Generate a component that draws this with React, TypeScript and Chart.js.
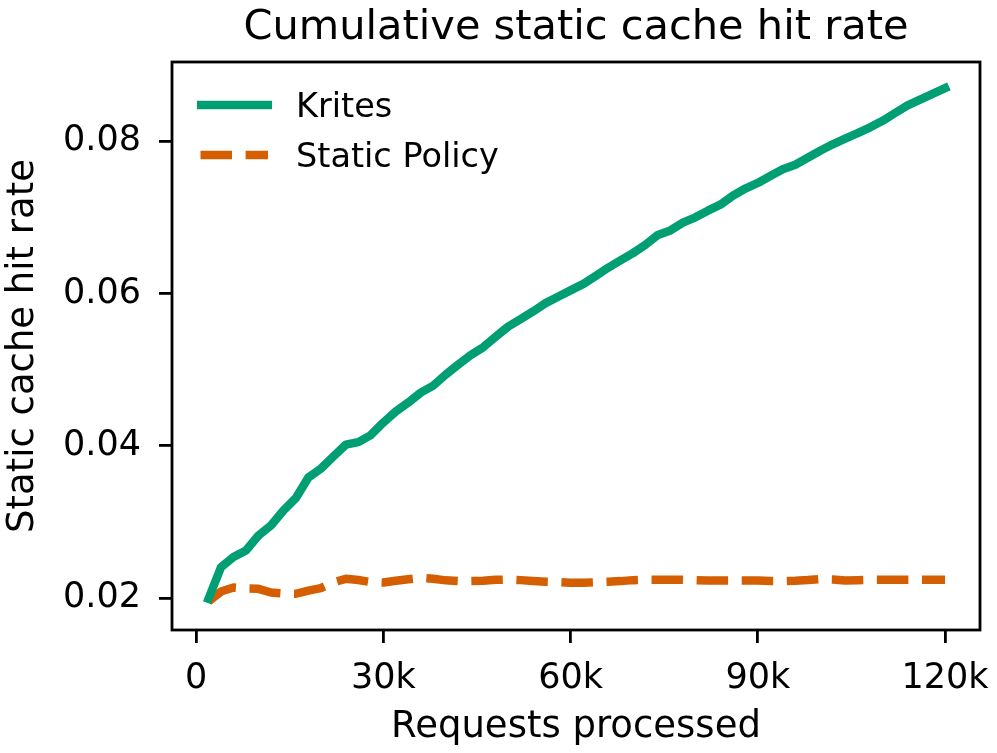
import { useEffect, useRef } from 'react';
import { Chart, registerables } from 'chart.js';

Chart.register(...registerables);

// Requests processed (thousands)
const requestsK = [
  2, 4, 6, 8, 10, 12, 14, 16, 18, 20, 22, 24, 26, 28, 30, 32, 34, 36, 38, 40,
  42, 44, 46, 48, 50, 52, 54, 56, 58, 60, 62, 64, 66, 68, 70, 72, 74, 76, 78, 80,
  82, 84, 86, 88, 90, 92, 94, 96, 98, 100, 102, 104, 106, 108, 110, 112, 114, 116, 118, 120,
];

const kritesRate = [
  0.0199, 0.02404, 0.02538, 0.02624, 0.02821, 0.02953, 0.03149, 0.03313, 0.03582, 0.037,
  0.03858, 0.04015, 0.04048, 0.0414, 0.04304, 0.04449, 0.04567, 0.04698, 0.0479, 0.04934,
  0.05066, 0.0519, 0.05293, 0.05431, 0.05565, 0.05662, 0.05764, 0.05873, 0.05958, 0.0604,
  0.06123, 0.06228, 0.06337, 0.06434, 0.0653, 0.0664, 0.06769, 0.06828, 0.06931, 0.07,
  0.07087, 0.07166, 0.07284, 0.07378, 0.07452, 0.07543, 0.07631, 0.07691, 0.07783, 0.07875,
  0.07959, 0.08033, 0.08105, 0.08182, 0.08268, 0.0837, 0.0847, 0.08546, 0.08621, 0.08696,
];

const staticRate = [
  0.01955, 0.02085, 0.02138, 0.02125, 0.02121, 0.02072, 0.02059, 0.02056, 0.02098, 0.02131,
  0.02207, 0.02252, 0.02236, 0.0221, 0.02203, 0.02226, 0.02246, 0.02265, 0.02252, 0.02232,
  0.02223, 0.02223, 0.02227, 0.02239, 0.02243, 0.02235, 0.02223, 0.02214, 0.02209, 0.022,
  0.022, 0.02207, 0.02213, 0.02222, 0.02235, 0.02239, 0.02239, 0.02239, 0.02239, 0.02235,
  0.0223, 0.0223, 0.0223, 0.0223, 0.0223, 0.02222, 0.02223, 0.02227, 0.02236, 0.02249,
  0.02243, 0.0223, 0.02235, 0.02239, 0.02239, 0.02239, 0.02239, 0.02239, 0.02239, 0.02239,
];

const xTickValues = [0, 30000, 60000, 90000, 120000];
const xTickLabels = ['0', '30k', '60k', '90k', '120k'];
const yTickValues = [0.02, 0.04, 0.06, 0.08];

const seriesNames = ['Krites', 'Static Policy'];
const seriesColors = ['#009E73', '#D55E00'];

const titleText = 'Cumulative static cache hit rate';
const xTitle = 'Requests processed';
const yTitle = 'Static cache hit rate';

const FONT = "'DejaVu Sans', 'Liberation Sans', sans-serif";
const LW = 8.5;
const DASH = [31.5, 13.6];

const decorPlugin = {
  id: 'mplDecor',
  afterDraw(chart: any) {
    const { ctx, chartArea } = chart;
    const { left, right, top, bottom } = chartArea;
    const cx = (left + right) / 2;
    ctx.save();
    // frame
    ctx.strokeStyle = '#000';
    ctx.lineWidth = 2.8;
    ctx.strokeRect(left, top, right - left, bottom - top);
    ctx.fillStyle = '#000';
    ctx.textAlign = 'center';
    ctx.textBaseline = 'middle';
    // title
    ctx.font = `41.5px ${FONT}`;
    ctx.fillText(titleText, cx, 28);
    // x title
    ctx.font = `37px ${FONT}`;
    ctx.fillText(xTitle, cx, 727);
    // y title
    ctx.save();
    ctx.translate(23, (top + bottom) / 2);
    ctx.rotate(-Math.PI / 2);
    ctx.fillText(yTitle, 0, 0);
    ctx.restore();
    // legend
    ctx.font = `33.5px ${FONT}`;
    ctx.textAlign = 'left';
    const rows = [105, 155];
    chart.data.datasets.forEach((ds: any, i: number) => {
      const y = rows[i];
      ctx.beginPath();
      ctx.strokeStyle = ds.borderColor;
      ctx.lineWidth = LW;
      ctx.lineCap = 'butt';
      if (ds.borderDash && ds.borderDash.length) {
        ctx.setLineDash(ds.borderDash);
        ctx.moveTo(left + 28.5, y);
        ctx.lineTo(left + 96, y);
      } else {
        ctx.setLineDash([]);
        ctx.moveTo(left + 25, y);
        ctx.lineTo(left + 100, y);
      }
      ctx.stroke();
      ctx.setLineDash([]);
      ctx.fillStyle = '#000';
      ctx.fillText(ds.label, left + 124, y + 3);
    });
    ctx.restore();
  },
};

export default function App() {
  const canvasRef = useRef<HTMLCanvasElement | null>(null);

  useEffect(() => {
    const canvas = canvasRef.current;
    if (!canvas) return;
    const chart = new Chart(canvas, {
      type: 'line',
      data: {
        datasets: [
          {
            label: seriesNames[0],
            data: requestsK.map((k, i) => ({ x: k * 1000, y: kritesRate[i] })),
            borderColor: seriesColors[0],
            backgroundColor: seriesColors[0],
            borderWidth: LW,
            pointRadius: 0,
            tension: 0,
            borderCapStyle: 'square',
            borderJoinStyle: 'round',
            fill: false,
          },
          {
            label: seriesNames[1],
            data: requestsK.map((k, i) => ({ x: k * 1000, y: staticRate[i] })),
            borderColor: seriesColors[1],
            backgroundColor: seriesColors[1],
            borderWidth: LW,
            borderDash: DASH,
            pointRadius: 0,
            tension: 0,
            borderCapStyle: 'butt',
            borderJoinStyle: 'round',
            fill: false,
          },
        ],
      },
      options: {
        responsive: false,
        animation: false,
        devicePixelRatio: 1,
        layout: { padding: { top: 62, right: 17, left: 0, bottom: 0 } },
        plugins: {
          legend: { display: false },
          title: { display: false },
          tooltip: { enabled: false },
        },
        scales: {
          x: {
            type: 'linear',
            min: -3850,
            max: 125600,
            afterFit: (s: any) => {
              s.height = 123;
              s.paddingLeft = 0;
              s.paddingRight = 0;
            },
            afterBuildTicks: (s: any) => {
              s.ticks = xTickValues.map((v) => ({ value: v }));
            },
            border: { display: false },
            grid: {
              display: true,
              drawOnChartArea: false,
              drawTicks: true,
              tickLength: 13,
              tickWidth: 2.8,
              tickColor: '#000',
              color: '#000',
              lineWidth: 2.8,
            },
            ticks: {
              autoSkip: false,
              maxRotation: 0,
              padding: 15,
              color: '#000',
              font: { family: FONT, size: 35 },
              callback: (v: any) => {
                const idx = xTickValues.indexOf(Number(v));
                return idx >= 0 ? xTickLabels[idx] : '';
              },
            },
          },
          y: {
            type: 'linear',
            min: 0.0158,
            max: 0.0904,
            afterFit: (s: any) => {
              s.width = 172;
              s.paddingTop = 0;
              s.paddingBottom = 0;
            },
            afterBuildTicks: (s: any) => {
              s.ticks = yTickValues.map((v) => ({ value: v }));
            },
            border: { display: false },
            grid: {
              display: true,
              drawOnChartArea: false,
              drawTicks: true,
              tickLength: 13,
              tickWidth: 2.8,
              tickColor: '#000',
              color: '#000',
              lineWidth: 2.8,
            },
            ticks: {
              autoSkip: false,
              padding: 18,
              color: '#000',
              font: { family: FONT, size: 35 },
              callback: (v: any) => Number(v).toFixed(2),
            },
          },
        },
      },
      plugins: [decorPlugin],
    } as any);
    return () => chart.destroy();
  }, []);

  return (
    <div style={{ position: 'fixed', left: 0, top: 0, width: 997, height: 753, background: '#fff' }}>
      <canvas ref={canvasRef} width={997} height={753} style={{ display: 'block' }} />
    </div>
  );
}
